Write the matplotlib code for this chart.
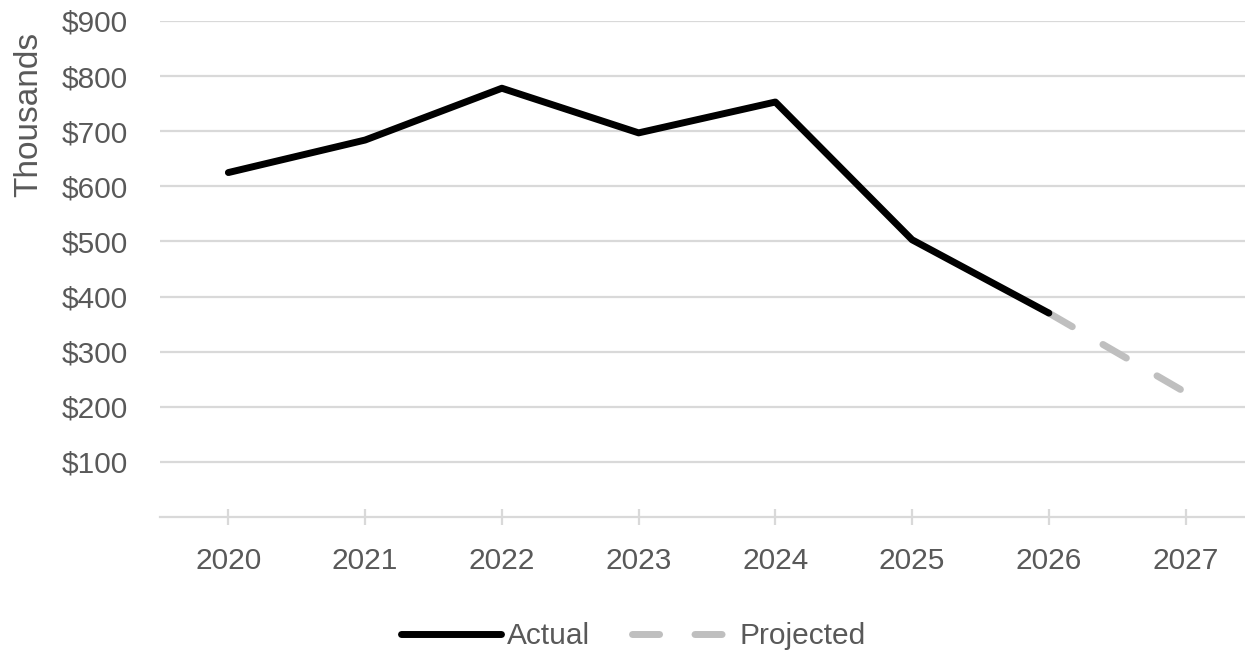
import matplotlib.pyplot as plt
import numpy as np

# datos (miles de dolares)
years = ['2020', '2021', '2022', '2023', '2024', '2025', '2026', '2027']
actual = [625, 684, 778, 697, 753, 503, 370]
projected = [370, 226]  # 2026 -> 2027
yticks = [100, 200, 300, 400, 500, 600, 700, 800, 900]

plt.rcParams['font.family'] = ['Liberation Sans', 'DejaVu Sans']
plt.rcParams['lines.scale_dashes'] = False

gris_texto = '#595959'
gris_linea = '#d9d9d9'

fig = plt.figure(figsize=(12.45, 6.53), dpi=100)
W, H = 1245, 653
ax = fig.add_axes([160 / W, (H - 517) / H, (1254 - 160) / W, (517 - 21) / H])

x = np.arange(len(years))
ax.plot(x[:len(actual)], actual, color='black', lw=5, solid_capstyle='round',
        solid_joinstyle='round', label='Actual', zorder=3)
ax.plot(x[len(actual) - 1:], projected, color='#bfbfbf', lw=5, dashes=(19.5, 25.5),
        dash_capstyle='round', label='Projected', zorder=2)

ax.set_xlim(-0.5, len(years) - 0.5)
ax.set_ylim(0, 900)
ax.set_xticks(x)
ax.set_xticklabels(years)
ax.set_yticks(yticks)
ax.set_yticklabels(['${}'.format(v) for v in yticks])
ax.yaxis.grid(True, color=gris_linea, lw=1.6)
ax.set_axisbelow(True)

for s in ['top', 'right', 'left']:
    ax.spines[s].set_visible(False)
ax.spines['bottom'].set_color(gris_linea)
ax.spines['bottom'].set_linewidth(1.6)

ax.tick_params(axis='x', colors=gris_linea, direction='inout',
               length=11, width=1.6, pad=16, labelsize=21.5, labelcolor=gris_texto)
ax.tick_params(axis='y', length=0, pad=23, labelsize=21.5, labelcolor=gris_texto)

# etiqueta del eje arriba, como en Excel
fig.text(29 / W, 1 - 114 / H, 'Thousands', rotation=90, ha='center', va='center',
         fontsize=24, color=gris_texto)

fig.legend(loc='center', bbox_to_anchor=(633 / W, 1 - 636 / H), ncol=2, frameon=False,
           fontsize=21.5, handlelength=3.35, handletextpad=0.23, columnspacing=1.4,
           labelcolor=gris_texto)

plt.savefig('out.png', dpi=100)
plt.close()
